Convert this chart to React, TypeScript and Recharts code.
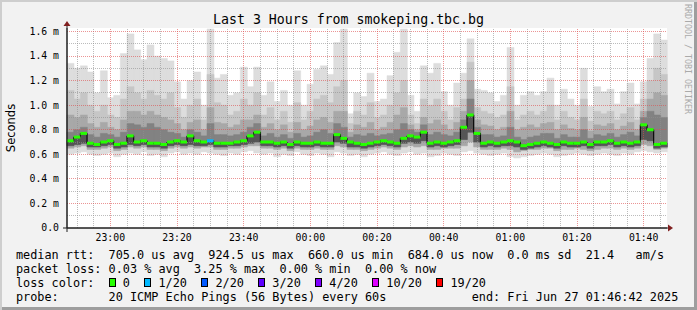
import { ComposedChart, Bar, Line, XAxis, YAxis, ReferenceLine, CartesianGrid } from "recharts";

// SmokePing, last 3 hours, one step = 2 minutes starting 22:47 (values in ms)
const medianRtt = [
  0.71, 0.74, 0.77, 0.69, 0.68, 0.70, 0.71, 0.68, 0.69, 0.75,
  0.70, 0.71, 0.69, 0.69, 0.68, 0.70, 0.71, 0.70, 0.75, 0.71,
  0.70, 0.71, 0.69, 0.69, 0.69, 0.70, 0.71, 0.75, 0.78, 0.70,
  0.70, 0.69, 0.70, 0.68, 0.70, 0.69, 0.69, 0.70, 0.69, 0.69,
  0.76, 0.73, 0.70, 0.69, 0.68, 0.69, 0.70, 0.71, 0.70, 0.69,
  0.73, 0.75, 0.74, 0.78, 0.69, 0.70, 0.69, 0.70, 0.71, 0.82,
  0.92, 0.77, 0.69, 0.70, 0.69, 0.70, 0.71, 0.70, 0.67, 0.68,
  0.69, 0.70, 0.69, 0.68, 0.70, 0.69, 0.69, 0.70, 0.68, 0.70,
  0.70, 0.71, 0.69, 0.70, 0.69, 0.70, 0.84, 0.80, 0.68, 0.69,
];

// fastest ping of each step
const pingMin = [
  0.60, 0.61, 0.62, 0.60, 0.59, 0.60, 0.61, 0.58, 0.60, 0.61,
  0.60, 0.62, 0.59, 0.60, 0.58, 0.61, 0.62, 0.60, 0.61, 0.60,
  0.62, 0.61, 0.60, 0.59, 0.61, 0.60, 0.62, 0.63, 0.61, 0.60,
  0.61, 0.58, 0.60, 0.59, 0.62, 0.60, 0.59, 0.61, 0.60, 0.58,
  0.62, 0.61, 0.59, 0.60, 0.58, 0.60, 0.61, 0.62, 0.60, 0.59,
  0.61, 0.62, 0.60, 0.61, 0.58, 0.59, 0.61, 0.60, 0.59, 0.62,
  0.63, 0.61, 0.60, 0.59, 0.60, 0.61, 0.58, 0.57, 0.58, 0.59,
  0.60, 0.61, 0.60, 0.58, 0.59, 0.60, 0.61, 0.60, 0.59, 0.60,
  0.61, 0.60, 0.59, 0.61, 0.60, 0.62, 0.63, 0.62, 0.61, 0.62,
];

const pingLow = [
  0.65, 0.66, 0.67, 0.64, 0.64, 0.65, 0.66, 0.63, 0.64, 0.66,
  0.65, 0.66, 0.64, 0.64, 0.63, 0.65, 0.66, 0.65, 0.66, 0.65,
  0.66, 0.66, 0.64, 0.64, 0.65, 0.65, 0.66, 0.67, 0.67, 0.65,
  0.65, 0.64, 0.65, 0.63, 0.65, 0.64, 0.64, 0.65, 0.64, 0.64,
  0.67, 0.66, 0.64, 0.64, 0.63, 0.64, 0.65, 0.66, 0.65, 0.64,
  0.66, 0.67, 0.66, 0.67, 0.64, 0.64, 0.65, 0.65, 0.65, 0.67,
  0.70, 0.66, 0.64, 0.64, 0.64, 0.65, 0.64, 0.62, 0.63, 0.64,
  0.64, 0.65, 0.65, 0.63, 0.64, 0.64, 0.65, 0.64, 0.63, 0.64,
  0.65, 0.65, 0.64, 0.65, 0.64, 0.65, 0.68, 0.67, 0.64, 0.65,
];

const pingLowInner = [
  0.67, 0.68, 0.69, 0.66, 0.66, 0.67, 0.68, 0.65, 0.66, 0.68,
  0.67, 0.68, 0.66, 0.66, 0.65, 0.67, 0.68, 0.67, 0.68, 0.67,
  0.67, 0.68, 0.66, 0.66, 0.67, 0.67, 0.68, 0.69, 0.70, 0.67,
  0.67, 0.66, 0.67, 0.65, 0.67, 0.66, 0.66, 0.67, 0.66, 0.66,
  0.70, 0.69, 0.66, 0.66, 0.65, 0.66, 0.67, 0.68, 0.67, 0.66,
  0.69, 0.70, 0.69, 0.71, 0.66, 0.67, 0.66, 0.67, 0.68, 0.72,
  0.78, 0.70, 0.66, 0.67, 0.66, 0.67, 0.67, 0.66, 0.64, 0.65,
  0.66, 0.67, 0.66, 0.65, 0.67, 0.66, 0.66, 0.67, 0.65, 0.67,
  0.67, 0.68, 0.66, 0.67, 0.66, 0.67, 0.72, 0.71, 0.65, 0.66,
];

// slowest ping of each step
const pingMax = [
  1.34, 1.30, 1.32, 1.27, 1.10, 1.28, 1.06, 1.08, 1.42, 1.58,
  1.45, 1.37, 1.49, 1.40, 1.38, 1.36, 1.19, 1.05, 1.20, 1.27,
  1.00, 1.62, 1.22, 1.25, 1.08, 1.10, 1.31, 1.15, 1.31, 1.08,
  1.19, 1.03, 1.12, 1.00, 1.28, 1.00, 1.17, 1.29, 1.32, 1.25,
  1.51, 1.62, 0.93, 1.10, 1.07, 1.26, 1.03, 1.05, 1.24, 1.43,
  1.62, 1.08, 0.95, 1.32, 1.26, 1.34, 1.11, 1.00, 1.18, 1.26,
  1.54, 1.13, 1.12, 1.10, 1.03, 1.08, 1.47, 1.00, 1.08, 1.11,
  1.08, 1.11, 1.22, 1.00, 1.13, 1.05, 1.00, 1.30, 0.99, 1.15,
  1.11, 1.13, 1.01, 1.11, 1.18, 1.01, 1.19, 1.38, 1.58, 1.53,
];

const pingHigh = [
  1.12, 1.05, 1.10, 1.00, 0.95, 1.00, 0.92, 0.90, 1.05, 1.15,
  1.10, 1.05, 1.12, 1.08, 1.05, 1.10, 0.98, 0.90, 1.00, 1.05,
  0.88, 1.25, 1.02, 1.00, 0.92, 0.95, 1.05, 1.00, 1.10, 0.92,
  0.98, 0.88, 0.95, 0.86, 1.02, 0.88, 0.95, 1.05, 1.08, 1.02,
  1.15, 1.20, 0.85, 0.95, 0.92, 1.02, 0.90, 0.92, 1.00, 1.10,
  1.20, 0.92, 0.85, 1.05, 1.00, 1.05, 0.95, 0.88, 0.98, 1.05,
  1.35, 0.98, 0.95, 0.93, 0.90, 0.92, 1.15, 0.88, 0.92, 0.95,
  0.92, 0.95, 1.00, 0.88, 0.95, 0.90, 0.88, 1.05, 0.87, 0.95,
  0.93, 0.95, 0.88, 0.93, 0.98, 0.88, 1.05, 1.20, 1.30, 1.25,
];

const pingHighMid = [
  0.92, 0.90, 0.92, 0.85, 0.82, 0.86, 0.82, 0.80, 0.88, 0.95,
  0.95, 0.92, 0.95, 0.92, 0.90, 0.88, 0.85, 0.80, 0.86, 0.88,
  0.80, 0.98, 0.86, 0.85, 0.82, 0.84, 0.88, 0.88, 0.92, 0.82,
  0.85, 0.80, 0.84, 0.78, 0.86, 0.80, 0.83, 0.88, 0.90, 0.86,
  0.95, 0.95, 0.78, 0.84, 0.82, 0.86, 0.80, 0.82, 0.86, 0.92,
  0.98, 0.84, 0.80, 0.90, 0.85, 0.88, 0.84, 0.80, 0.86, 0.95,
  1.20, 0.88, 0.84, 0.83, 0.80, 0.82, 0.95, 0.80, 0.82, 0.84,
  0.82, 0.85, 0.86, 0.80, 0.84, 0.81, 0.80, 0.90, 0.79, 0.84,
  0.83, 0.85, 0.80, 0.83, 0.86, 0.80, 0.95, 1.05, 1.10, 1.08,
];

const pingHighInner = [
  0.78, 0.80, 0.82, 0.76, 0.74, 0.77, 0.76, 0.74, 0.78, 0.85,
  0.84, 0.82, 0.85, 0.82, 0.80, 0.78, 0.77, 0.74, 0.80, 0.78,
  0.75, 0.85, 0.76, 0.76, 0.75, 0.76, 0.78, 0.82, 0.85, 0.75,
  0.77, 0.74, 0.76, 0.73, 0.77, 0.74, 0.75, 0.78, 0.80, 0.77,
  0.85, 0.82, 0.74, 0.76, 0.75, 0.77, 0.75, 0.76, 0.77, 0.80,
  0.85, 0.80, 0.78, 0.84, 0.76, 0.78, 0.76, 0.75, 0.78, 0.88,
  1.05, 0.82, 0.76, 0.76, 0.74, 0.75, 0.82, 0.74, 0.72, 0.74,
  0.75, 0.77, 0.77, 0.73, 0.76, 0.74, 0.74, 0.80, 0.73, 0.76,
  0.75, 0.77, 0.74, 0.76, 0.78, 0.75, 0.90, 0.95, 0.92, 0.90,
];

// steps with lost pings (out of 20)
const lossSteps = [21];
const lossPings = [1];

const timeTicks = [13, 33, 53, 73, 93, 113, 133, 153, 173];
const timeLabels = ["23:00", "23:20", "23:40", "00:00", "00:20", "00:40", "01:00", "01:20", "01:40"];
const valueTicks = [0, 0.2, 0.4, 0.6, 0.8, 1.0, 1.2, 1.4, 1.6];
const minorValues = [0.1, 0.3, 0.5, 0.7, 0.9, 1.1, 1.3, 1.5];

const lossLegend = [
  { label: "0", color: "#26ff00" },
  { label: "1/20", color: "#00b8ff" },
  { label: "2/20", color: "#0059ff" },
  { label: "3/20", color: "#5e00ff" },
  { label: "4/20", color: "#7e00ff" },
  { label: "10/20", color: "#dd00ff" },
  { label: "19/20", color: "#ff0000" },
];
const lossLimits = [0, 1, 2, 3, 4, 10, 19];

const MONO = "'DejaVu Sans Mono', monospace";
const MGRID = "rgba(222,79,79,0.6)";
const GRID = "rgba(143,143,143,0.6)";
const STEP_PX = 600 / medianRtt.length;

const minorTimes: number[] = [];
for (let m = 3; m <= 178; m += 5) if (!timeTicks.includes(m)) minorTimes.push(m);

const data = medianRtt.map((m, i) => {
  const k = lossSteps.indexOf(i);
  return {
    t: i * 2 + 1,
    median: m,
    outer: [pingMin[i], pingMax[i]],
    band2: [pingLow[i], pingHigh[i]],
    band3: [pingLow[i], pingHighMid[i]],
    band4: [pingLowInner[i], pingHighInner[i]],
    band5: [pingLowInner[i], m],
    loss: k >= 0 ? lossPings[k] : 0,
  };
});

const lossColor = (loss: number) => {
  let c = lossLegend[0].color;
  lossLimits.forEach((lim, j) => {
    if (loss >= lim) c = lossLegend[j].color;
  });
  return c;
};

const MedianDot = (props: any) => {
  const { cx, cy, payload, index } = props;
  if (cx == null || cy == null) return <g key={`d-${index}`} />;
  return (
    <rect
      key={`d-${index}`}
      x={cx - STEP_PX / 2}
      y={cy - 1.5}
      width={STEP_PX}
      height={3}
      fill={lossColor(payload.loss)}
    />
  );
};

const bands = [
  { key: "outer", color: "#dddddd" },
  { key: "band2", color: "#c6c6c6" },
  { key: "band3", color: "#a8a8a8" },
  { key: "band4", color: "#828282" },
  { key: "band5", color: "#555555" },
];

const App = () => {
  return (
    <div
      style={{
        position: "absolute",
        left: 0,
        top: 0,
        width: 697,
        height: 310,
        background: "#f2f2f2",
        boxShadow: "inset 2px 2px 0 #cecece, inset -3px -3px 0 #9e9e9e",
        overflow: "hidden",
      }}
    >
      <div style={{ position: "absolute", left: 0, top: 0 }}>
        <ComposedChart
          width={697}
          height={310}
          data={data}
          margin={{ top: 28, right: 30, bottom: 62, left: 0 }}
          barCategoryGap={0}
          barGap={0}
        >
          <CartesianGrid xAxisId="time" fill="#ffffff" stroke="none" horizontal={false} vertical={false} />
          <XAxis
            xAxisId="time"
            dataKey="t"
            type="number"
            domain={[0, 180]}
            ticks={timeTicks}
            tickFormatter={(v: number) => timeLabels[timeTicks.indexOf(v)] ?? ""}
            allowDataOverflow
            height={20}
            tickLine={false}
            tickSize={0}
            tickMargin={6}
            axisLine={{ stroke: "#1f1f1f" }}
            tick={{ fontFamily: MONO, fontSize: 9.8, fill: "#000" }}
          />
          {bands.map((b) => (
            <XAxis key={b.key} xAxisId={b.key} dataKey="t" type="category" orientation="top" height={0} hide />
          ))}
          <YAxis
            domain={[0, 1.628]}
            ticks={valueTicks}
            allowDataOverflow
            width={67}
            tickLine={false}
            tickSize={0}
            tickMargin={8}
            axisLine={{ stroke: "#1f1f1f" }}
            tickFormatter={(v: number) => (v === 0 ? "0.0" : `${v.toFixed(1)} m`)}
            tick={{ fontFamily: MONO, fontSize: 9.8, fill: "#000" }}
          />
          {bands.map((b) => (
            <Bar
              key={b.key}
              xAxisId={b.key}
              dataKey={b.key}
              fill={b.color}
              stroke={b.color}
              strokeWidth={0.5}
              isAnimationActive={false}
            />
          ))}
          {minorValues.map((v) => (
            <ReferenceLine key={`hy-${v}`} xAxisId="time" y={v} stroke={GRID} strokeDasharray="1 1" shapeRendering="crispEdges" />
          ))}
          {minorTimes.map((v) => (
            <ReferenceLine key={`hx-${v}`} xAxisId="time" x={v} stroke={GRID} strokeDasharray="1 1" shapeRendering="crispEdges" />
          ))}
          {valueTicks.slice(1).map((v) => (
            <ReferenceLine key={`my-${v}`} xAxisId="time" y={v} stroke={MGRID} strokeDasharray="1 1" shapeRendering="crispEdges" />
          ))}
          {timeTicks.map((v) => (
            <ReferenceLine key={`mx-${v}`} xAxisId="time" x={v} stroke={MGRID} strokeDasharray="1 1" shapeRendering="crispEdges" />
          ))}
          <Line
            xAxisId="time"
            dataKey="median"
            type="step"
            stroke="#000000"
            strokeWidth={1}
            dot={MedianDot}
            activeDot={false}
            isAnimationActive={false}
          />
        </ComposedChart>
      </div>

      {/* axis extensions and arrows */}
      <svg width={697} height={310} style={{ position: "absolute", left: 0, top: 0, pointerEvents: "none" }}>
        <line x1={63} y1={228} x2={669} y2={228} stroke="#1f1f1f" />
        <line x1={67} y1={232} x2={67} y2={25} stroke="#1f1f1f" />
        <polygon points="63.5,26 70.5,26 67,21" fill="#801f1f" />
        <polygon points="668,224.5 668,231.5 673,228" fill="#801f1f" />
      </svg>

      <div
        style={{
          position: "absolute",
          left: 0,
          top: 12,
          width: 697,
          textAlign: "center",
          fontFamily: MONO,
          fontSize: 13.24,
          lineHeight: "16px",
          whiteSpace: "pre",
        }}
      >
        Last 3 Hours from smokeping.tbc.bg
      </div>

      <div
        style={{
          position: "absolute",
          left: 11,
          top: 127.5,
          transform: "translate(-50%, -50%) rotate(-90deg)",
          fontFamily: "'DejaVu Sans', sans-serif",
          fontSize: 11.5,
          whiteSpace: "nowrap",
        }}
      >
        Seconds
      </div>

      <div
        style={{
          position: "absolute",
          left: 687.5,
          top: 59,
          transform: "translate(-50%, -50%) rotate(90deg)",
          fontFamily: MONO,
          fontSize: 8.3,
          color: "#aaaaaa",
          whiteSpace: "nowrap",
        }}
      >
        RRDTOOL / TOBI OETIKER
      </div>

      <div
        style={{
          position: "absolute",
          left: 16,
          top: 247.5,
          fontFamily: MONO,
          fontSize: 11.83,
          lineHeight: "14px",
          whiteSpace: "pre",
          color: "#000",
        }}
      >
        <div>median rtt:  705.0 us avg  924.5 us max  660.0 us min  684.0 us now  0.0 ms sd  21.4   am/s</div>
        <div>packet loss: 0.03 % avg  3.25 % max  0.00 % min  0.00 % now</div>
        <div>
          {"loss color:  "}
          {lossLegend.map((it, k) => (
            <span key={it.label}>
              <span
                style={{
                  display: "inline-block",
                  width: "1ch",
                  height: 9,
                  boxSizing: "border-box",
                  border: "1px solid #000",
                  background: it.color,
                }}
              />
              {` ${it.label}${k < lossLegend.length - 1 ? "  " : ""}`}
            </span>
          ))}
        </div>
        <div>{"probe:       20 ICMP Echo Pings (56 Bytes) every 60s            end: Fri Jun 27 01:46:42 2025"}</div>
      </div>
    </div>
  );
};

export default App;
